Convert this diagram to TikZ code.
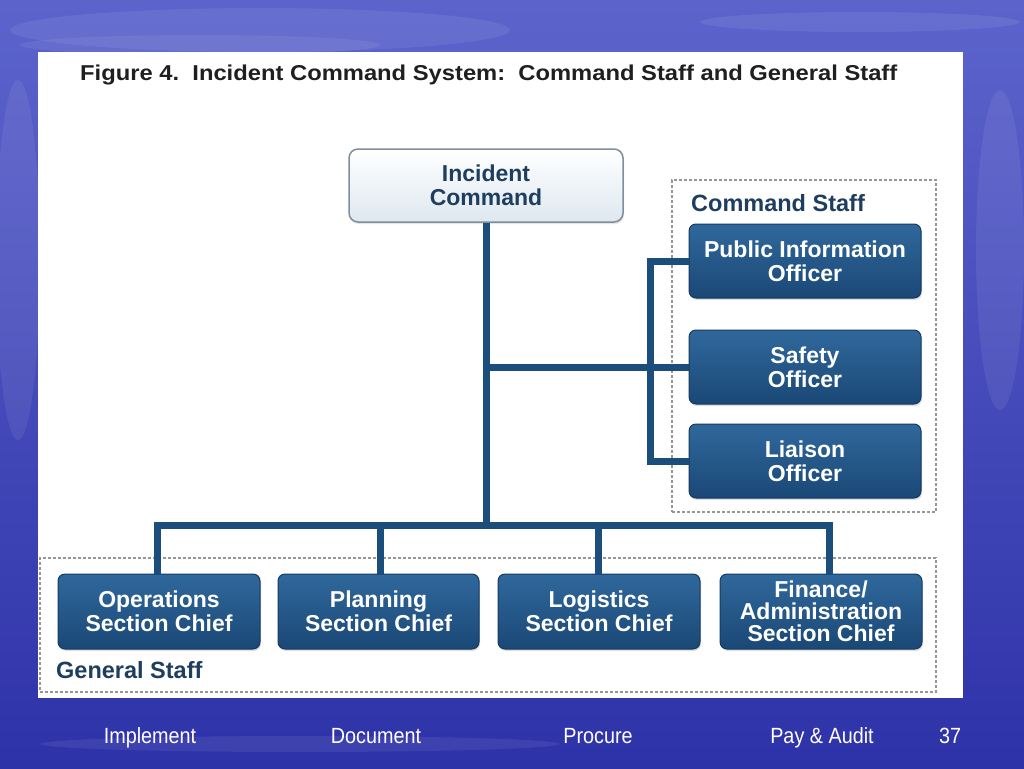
\documentclass[tikz,border=0pt]{standalone}
\usepackage{fontspec}
\setmainfont{Liberation Sans}
\usetikzlibrary{shadows}
\definecolor{bgtop}{RGB}{92,100,204}
\definecolor{bgbot}{RGB}{46,50,168}
\definecolor{linec}{RGB}{28,78,124}
\definecolor{boxtop}{RGB}{48,104,156}
\definecolor{boxbot}{RGB}{26,72,118}
\definecolor{boxedge}{RGB}{20,58,98}
\definecolor{labc}{RGB}{30,62,96}
\definecolor{icedge}{RGB}{128,142,156}
\definecolor{icbot}{RGB}{222,232,240}
\definecolor{dashc}{RGB}{150,150,150}
\tikzset{
  darkbox/.style={rectangle, rounded corners=7pt, draw=boxedge, line width=1pt,
    top color=boxtop, bottom color=boxbot, text=white, align=center,
    font=\bfseries\fontsize{23}{24}\selectfont,
    drop shadow={opacity=0.25, shadow xshift=1pt, shadow yshift=-2pt},
    minimum width=202pt, minimum height=75pt, inner sep=0pt},
  icbox/.style={rectangle, rounded corners=9pt, draw=icedge, line width=1.5pt,
    top color=white, bottom color=icbot, text=labc, align=center,
    font=\bfseries\fontsize{23}{24}\selectfont,
    drop shadow={opacity=0.2, shadow xshift=1pt, shadow yshift=-2pt},
    minimum width=274pt, minimum height=73pt, inner sep=0pt},
  dashbox/.style={rectangle, draw=dashc, line width=1.6pt, dash pattern=on 3pt off 2pt, inner sep=0pt},
  grouplabel/.style={anchor=west, text=labc, font=\bfseries\fontsize{23.5}{24}\selectfont, inner sep=0pt},
  conn/.style={draw=linec, line width=7pt},
  foot/.style={text=white, font=\fontsize{22}{24}\selectfont, inner sep=0pt, xscale=0.9, anchor=base},
  cloud/.style={white, opacity=0.07},
}
\begin{document}
\begin{tikzpicture}[x=1pt,y=-1pt]
\useasboundingbox (0,0) rectangle (1024,768);
% background
\shade[top color=bgtop, bottom color=bgbot] (0,0) rectangle (1024,768);
\fill[cloud] (260,30) ellipse (250pt and 22pt);
\fill[cloud] (200,45) ellipse (180pt and 10pt);
\fill[cloud] (860,22) ellipse (160pt and 10pt);
\fill[cloud] (18,260) ellipse (22pt and 180pt);
\fill[cloud] (1000,250) ellipse (24pt and 160pt);
\fill[cloud] (300,744) ellipse (260pt and 8pt);
% panel
\fill[white] (38,52) rectangle (963,698);
\node[anchor=west, inner sep=0pt, text=black!88] (title) at (80,75)
  {\scalebox{1.105}[1]{\bfseries\fontsize{21.5}{24}\selectfont Figure 4.\ \ Incident Command System:\ \ Command Staff and General Staff}};
% group frames
\node[dashbox, minimum width=264pt, minimum height=332pt] (csframe) at (804,346) {};
\node[dashbox, minimum width=896pt, minimum height=134pt] (gsframe) at (488,625) {};
\node[grouplabel] (cslab) at (691,203) {Command Staff};
\node[grouplabel] (gslab) at (56,670) {General Staff};
% boxes
\node[icbox] (ic) at (486,185.5) {Incident\\Command};
\node[darkbox, minimum width=232pt, minimum height=74pt] (pio) at (805,261) {Public Information\\Officer};
\node[darkbox, minimum width=232pt, minimum height=74pt] (saf) at (805,367) {Safety\\Officer};
\node[darkbox, minimum width=232pt, minimum height=74pt] (lia) at (805,461) {Liaison\\Officer};
\node[darkbox] (ops) at (159,611.5) {Operations\\Section Chief};
\node[darkbox, minimum width=201pt] (plan) at (378.5,611.5) {Planning\\Section Chief};
\node[darkbox] (log) at (599,611.5) {Logistics\\Section Chief};
\node[darkbox, font=\bfseries\fontsize{23}{22}\selectfont] (fin) at (821,611.5) {Finance/\\Administration\\Section Chief};
\coordinate (busc) at (486,525);
\coordinate (cx) at (650,367);
% connectors
\draw[conn] (ic.south) -- (busc);
\draw[conn] ([xshift=-2pt]ops.north) |- (busc);
\draw[conn] ([xshift=1.5pt]plan.north) |- (busc);
\draw[conn] ([xshift=-1pt]log.north) |- (busc);
\draw[conn] ([xshift=8pt]fin.north) |- (busc);
\draw[conn] (ic.south |- saf.west) -- (saf.west);
\draw[conn] (pio.west) -| (cx) |- (lia.west);
% footer
\node[foot] (f1) at (150,743) {Implement};
\node[foot] (f2) at (376,743) {Document};
\node[foot] (f3) at (598,743) {Procure};
\node[foot] (f4) at (822,743) {Pay \& Audit};
\node[foot] (f5) at (950,743) {37};
\end{tikzpicture}
\end{document}
